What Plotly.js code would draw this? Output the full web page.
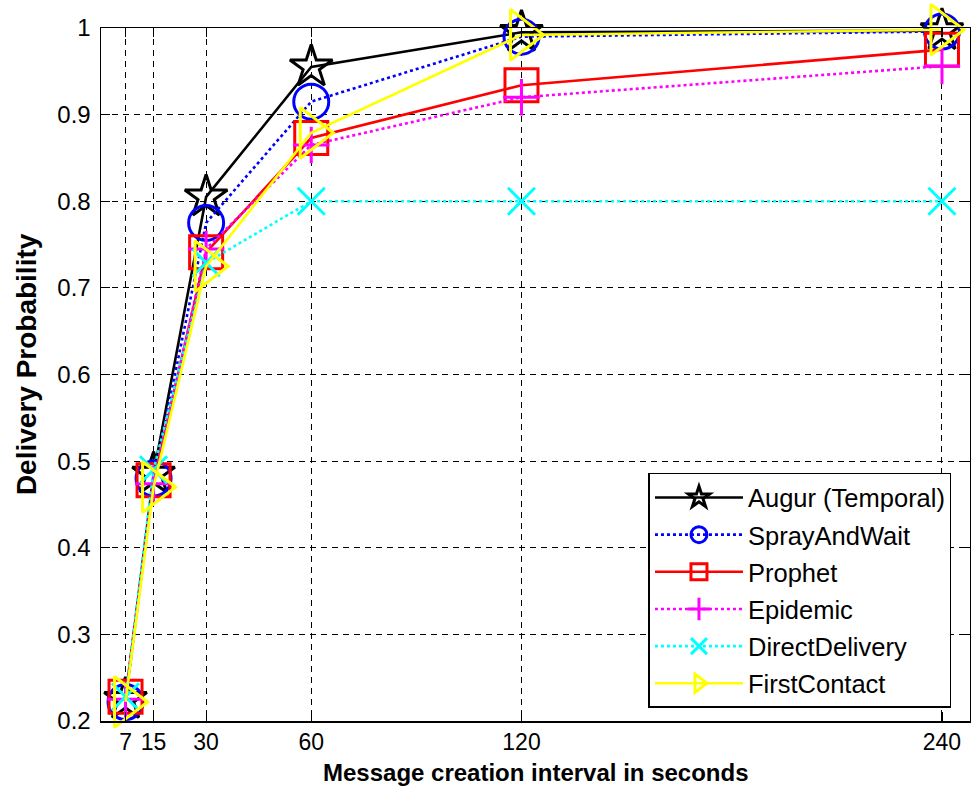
<!DOCTYPE html>
<html>
<head>
<meta charset="utf-8">
<script src="https://cdn.plot.ly/plotly-3.0.1.min.js"></script>
<style>html,body{margin:0;padding:0;background:#fff;}#chart{width:971px;height:796px;}</style>
</head>
<body>
<div id="chart"></div>
<script>
// Message creation interval (seconds)
const intervals = [7, 15, 30, 60, 120, 240];
const tickLabels = ['7', '15', '30', '60', '120', '240'];
const yTicks = [0.2, 0.3, 0.4, 0.5, 0.6, 0.7, 0.8, 0.9, 1];

// Delivery probability per protocol
const augur        = [0.225, 0.485, 0.805, 0.955, 0.995, 0.997];
const sprayAndWait = [0.222, 0.480, 0.775, 0.915, 0.990, 0.996];
const prophet      = [0.228, 0.478, 0.741, 0.873, 0.934, 0.975];
const epidemic     = [0.225, 0.474, 0.745, 0.865, 0.920, 0.956];
const directDeliv  = [0.228, 0.490, 0.729, 0.800, 0.800, 0.800];
const firstContact = [0.222, 0.470, 0.725, 0.879, 0.992, 0.998];

const seriesNames = ['Augur (Temporal)', 'SprayAndWait', 'Prophet', 'Epidemic', 'DirectDelivery', 'FirstContact'];
const seriesData = [augur, sprayAndWait, prophet, epidemic, directDeliv, firstContact];
const xTitle = 'Message creation interval in seconds';
const yTitle = 'Delivery Probability';

const styles = [
  {color: '#000000', dash: 'solid', symbol: 'star-open', size: 32},
  {color: '#0000FF', dash: 'dot', symbol: 'circle-open', size: 35},
  {color: '#FF0000', dash: 'solid', symbol: 'square-open', size: 33},
  {color: '#FF00FF', dash: 'dot', symbol: 'cross-thin-open', size: 26},
  {color: '#00FFFF', dash: 'dot', symbol: 'x-thin-open', size: 27},
  {color: '#FFFF00', dash: 'solid', symbol: 'triangle-right-open', size: 44}
];

const traces = seriesData.map((vals, i) => ({
  type: 'scatter',
  mode: 'lines+markers',
  name: seriesNames[i],
  legendgroup: 'g' + i,
  x: intervals,
  y: vals,
  line: {color: styles[i].color, width: 2.6, dash: styles[i].dash},
  marker: {symbol: styles[i].symbol, size: styles[i].size, color: styles[i].color,
           line: {color: styles[i].color, width: 3}},
  cliponaxis: false
}));

const font = 'Liberation Sans, Arial, sans-serif';

const layout = {
  width: 971, height: 796,
  margin: {l: 101, r: 1, t: 28, b: 75},
  paper_bgcolor: '#ffffff',
  plot_bgcolor: '#ffffff',
  font: {family: font, color: '#000', size: 24},
  showlegend: true,
  legend: {
    x: 0.630, y: 0.358, xanchor: 'left', yanchor: 'top',
    bgcolor: '#ffffff', bordercolor: '#000', borderwidth: 1.5,
    font: {family: font, size: 25.5, color: '#000'},
    tracegroupgap: 1,
    itemwidth: 88,
    itemsizing: 'trace'
  },
  xaxis: {
    range: [0, 248],
    tickvals: intervals,
    ticktext: tickLabels,
    ticks: 'inside', ticklen: 9, tickwidth: 1.2, tickcolor: '#000',
    showline: true, linecolor: '#000', linewidth: 1.5, mirror: 'ticks',
    showgrid: true, gridcolor: '#000', gridwidth: 1, griddash: '6px,5px',
    zeroline: false,
    tickfont: {family: font, size: 23, color: '#000'},
    ticklabelstandoff: 0
  },
  yaxis: {
    range: [0.2, 1],
    tickvals: yTicks,
    ticktext: yTicks.map(v => String(v)),
    ticks: 'inside', ticklen: 9, tickwidth: 1.2, tickcolor: '#000',
    showline: true, linecolor: '#000', linewidth: 1.5, mirror: 'ticks',
    showgrid: true, gridcolor: '#000', gridwidth: 1, griddash: '6px,5px',
    zeroline: false,
    tickfont: {family: font, size: 24, color: '#000'},
    ticklabelstandoff: 4
  },
  annotations: [
    {text: xTitle, xref: 'paper', yref: 'paper', x: 0.5, y: -0.075, xanchor: 'center', yanchor: 'middle',
     showarrow: false, font: {family: font, size: 24, color: '#000', weight: 'bold'}},
    {text: yTitle, xref: 'paper', yref: 'paper', x: -0.0863, y: 0.515, xanchor: 'center', yanchor: 'middle',
     textangle: -90, showarrow: false, font: {family: font, size: 28, color: '#000', weight: 'bold'}}
  ]
};

Plotly.newPlot('chart', traces, layout, {displayModeBar: false, staticPlot: true});
</script>
</body>
</html>
